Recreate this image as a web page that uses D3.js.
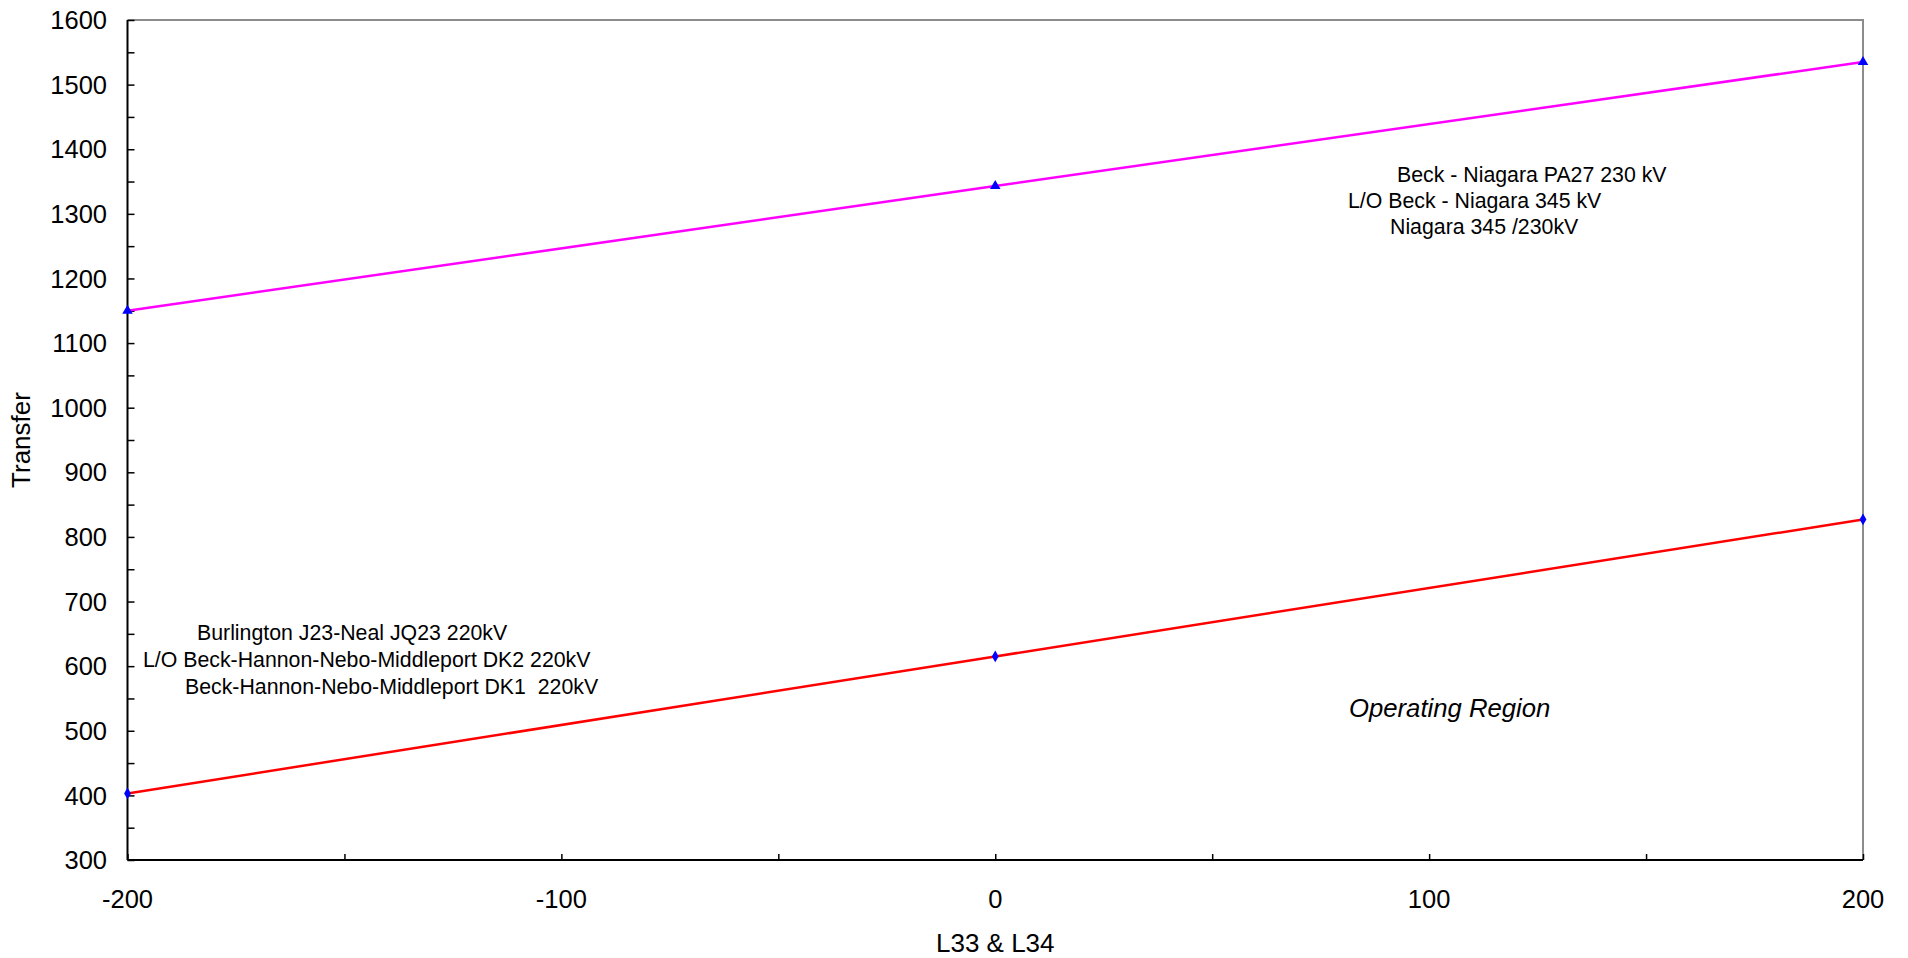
<!DOCTYPE html>
<html><head><meta charset="utf-8">
<script src="https://cdn.jsdelivr.net/npm/d3@7"></script>
<style>body{margin:0;background:#fff}svg{display:block}text{font-family:"Liberation Sans",Arial,sans-serif;fill:#000}</style>
</head><body><svg id="c" width="1908" height="958"></svg>
<script>
const xValues = [-200, 0, 200];
const upperLimit = [1150, 1343, 1535];
const lowerLimit = [403, 615, 827];
const xTickLabels = [-200, -100, 0, 100, 200];
const yTickLabels = [300, 400, 500, 600, 700, 800, 900, 1000, 1100, 1200, 1300, 1400, 1500, 1600];
const upperNotes = ["Beck - Niagara PA27 230 kV", "L/O Beck - Niagara 345 kV", "Niagara 345 /230kV"];
const lowerNotes = ["Burlington J23-Neal JQ23 220kV", "L/O Beck-Hannon-Nebo-Middleport DK2 220kV", "Beck-Hannon-Nebo-Middleport DK1  220kV"];

const svg = d3.select("#c");
const L = 127.5, R = 1863, T = 20, B = 860;
const x = d3.scaleLinear().domain([-200, 200]).range([L, R]);
const y = d3.scaleLinear().domain([300, 1600]).range([B, T]);

// frame (top/right grey)
svg.append("path").attr("d", `M${L},${T}H${R}V${B}`).attr("fill", "none").attr("stroke", "#8c8c8c").attr("stroke-width", 2);

// y axis
const yAxis = svg.append("g").attr("transform", `translate(${L},0)`)
  .call(d3.axisRight(y).tickValues(d3.range(300, 1601, 50)).tickSize(7).tickFormat(""));
yAxis.select(".domain").attr("stroke", "#000").attr("stroke-width", 2).attr("d", `M0,${T}V${B}`);
yAxis.selectAll(".tick line").attr("stroke", "#000").attr("stroke-width", 1.5);
svg.append("g").selectAll("text").data(yTickLabels).join("text")
  .attr("x", 107).attr("y", d => y(d)).attr("dy", "0.36em").attr("text-anchor", "end")
  .attr("font-size", 25.5).text(d => d);

// x axis
const xAxis = svg.append("g").attr("transform", `translate(0,${B})`)
  .call(d3.axisTop(x).tickValues(d3.range(-200, 201, 50)).tickSize(6).tickFormat(""));
xAxis.select(".domain").attr("stroke", "#000").attr("stroke-width", 2).attr("d", `M${L},0H${R}`);
xAxis.selectAll(".tick line").attr("stroke", "#000").attr("stroke-width", 1.5);
svg.append("g").selectAll("text").data(xTickLabels).join("text")
  .attr("x", d => x(d)).attr("y", 908).attr("text-anchor", "middle")
  .attr("font-size", 25.5).text(d => d);

// titles
svg.append("text").attr("x", (L + R) / 2).attr("y", 952).attr("text-anchor", "middle").attr("font-size", 26).text("L33 & L34");
svg.append("text").attr("transform", "translate(30,440) rotate(-90)").attr("text-anchor", "middle").attr("font-size", 26).text("Transfer");

// lines
const line = d3.line().x((d, i) => x(xValues[i])).y(d => y(d));
svg.append("path").datum(upperLimit).attr("d", line).attr("fill", "none").attr("stroke", "#ff00ff").attr("stroke-width", 2.5);
svg.append("path").datum(lowerLimit).attr("d", line).attr("fill", "none").attr("stroke", "#ff0000").attr("stroke-width", 2.5);

// markers
svg.append("g").selectAll("path").data(upperLimit).join("path")
  .attr("transform", (d, i) => `translate(${x(xValues[i])},${y(d)})`)
  .attr("d", d3.symbol(d3.symbolTriangle, 48)).attr("fill", "#0000ff");
svg.append("g").selectAll("path").data(lowerLimit).join("path")
  .attr("transform", (d, i) => `translate(${x(xValues[i])},${y(d)})`)
  .attr("d", d3.symbol(d3.symbolDiamond, 40)).attr("fill", "#0000ff");

// annotations
const upX = [1397, 1348, 1390], upY = [182, 208, 234];
svg.append("g").selectAll("text").data(upperNotes).join("text")
  .attr("x", (d, i) => upX[i]).attr("y", (d, i) => upY[i]).attr("font-size", 21.3).attr("xml:space", "preserve").text(d => d);
const loX = [197, 143, 185], loY = [640, 667, 694];
svg.append("g").selectAll("text").data(lowerNotes).join("text")
  .attr("x", (d, i) => loX[i]).attr("y", (d, i) => loY[i]).attr("font-size", 21.3).attr("xml:space", "preserve").text(d => d);
svg.append("text").attr("x", 1349).attr("y", 717).attr("font-size", 25.7).attr("font-style", "italic").text("Operating Region");
</script></body></html>
